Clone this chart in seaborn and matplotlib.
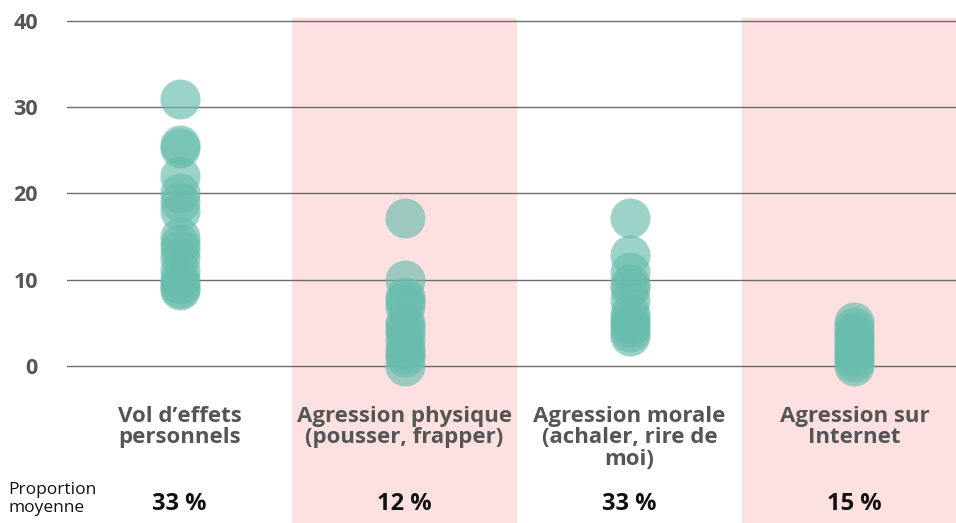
import pandas as pd
import numpy as np
import matplotlib.pyplot as plt
import seaborn as sns

#-----------------------------------------------------------------
# Data
#-----------------------------------------------------------------
categories = [
    "Vol d\u2019effets\npersonnels",
    "Agression physique\n(pousser, frapper)",
    "Agression morale\n(achaler, rire de\nmoi)",
    "Agression sur\nInternet",
]
vol_values = [31, 25.6, 25.3, 22, 20, 19, 18, 15, 14.2, 13.5, 12.5, 11, 10, 9.5, 9, 8.8]
physique_values = [17.1, 10, 8, 7.5, 7, 5, 4.5, 4, 3, 2, 1.5, 1, 0]
morale_values = [17.1, 12.9, 10.9, 9.5, 9, 7.6, 6, 5.5, 5, 4.5, 4, 3.5]
internet_values = [5.1, 4.5, 4, 3.5, 3, 2.5, 2, 1.5, 1, 0.5, 0]
mean_labels = ["33 %", "12 %", "33 %", "15 %"]
y_ticks = [0, 10, 20, 30, 40]

#-----------------------------------------------------------------
# Build long table
#-----------------------------------------------------------------
series = [vol_values, physique_values, morale_values, internet_values]
rows = []
for cat, vals in zip(categories, series):
    for v in vals:
        rows.append({"cat": cat, "val": v})
df = pd.DataFrame(rows)

#-----------------------------------------------------------------
# Figure
#-----------------------------------------------------------------
sns.set_style("white")
plt.rcParams["font.family"] = ["Open Sans", "DejaVu Sans"]

fig = plt.figure(figsize=(9.56, 5.23), dpi=100)
ax = fig.add_axes([67 / 956, 0, 900 / 956, 1])

y_low, y_high = -18.2, 42.43
ax.set_xlim(-0.5, 3.5)
ax.set_ylim(y_low, y_high)

# pink bands behind columns 2 and 4
band_top = (40.35 - y_low) / (y_high - y_low)
for i in [1, 3]:
    ax.axvspan(i - 0.5, i + 0.5, ymin=0, ymax=band_top, color="#fde1e1", lw=0, zorder=0)

# grid lines
for t in y_ticks:
    ax.axhline(t, color="#6b6b6b", lw=1, zorder=1)

sns.stripplot(data=df, x="cat", y="val", order=categories, jitter=False,
              size=28.8, color="#68bcad", alpha=0.65, linewidth=0,
              ax=ax, zorder=3, clip_on=False)

ax.set_xlim(-0.5, 3.5)
ax.set_ylim(y_low, y_high)
ax.set_yticks(y_ticks)
ax.set_yticklabels([str(t) for t in y_ticks], fontsize=15.5, fontweight="bold", color="#555555")
ax.tick_params(axis="y", length=0, pad=21)
ax.set_xticks([])
ax.set_xlabel("")
ax.set_ylabel("")
for s in ax.spines.values():
    s.set_visible(False)

# category labels
for i, cat in enumerate(categories):
    ax.text(i, -4.6, cat, ha="center", va="top", fontsize=16, fontweight="bold",
            color="#555555", linespacing=1.05)

# mean proportions row
for i, lab in enumerate(mean_labels):
    ax.text(i, -16.0, lab, ha="center", va="center", fontsize=17, fontweight="bold",
            color="#111111")
fig.text(8 / 956, 1 - 499 / 523, "Proportion\nmoyenne", ha="left", va="center",
         fontsize=12.5, color="#111111", linespacing=1.25)

fig.savefig("out.png", dpi=100)
